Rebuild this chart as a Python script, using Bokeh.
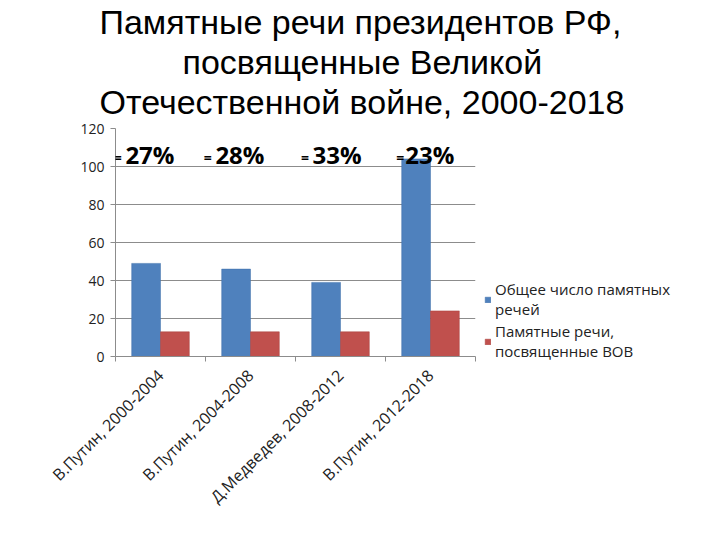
from bokeh.plotting import figure
from bokeh.models import (ColumnDataSource, Range1d, FixedTicker, Label, Legend,
                          LegendItem, Title)
from bokeh.transform import dodge
from bokeh.embed import file_html
from bokeh.resources import INLINE

# ---- data ----
categories = ["В.Путин, 2000-2004", "В.Путин, 2004-2008",
              "Д.Медведев, 2008-2012", "В.Путин, 2012-2018"]
total_speeches = [49, 46, 39, 104]
war_speeches = [13, 13, 13, 24]
percent_labels = ["27%", "28%", "33%", "23%"]
series_names = ["Общее число памятных\nречей", "Памятные речи,\nпосвященные ВОВ"]
title_lines = ["Памятные речи президентов РФ,", "посвященные Великой",
               "Отечественной войне, 2000-2018"]

BLUE = "#4F81BD"
RED = "#C0504D"
GRID = "#8C8C8C"

xpos = [i + 0.5 for i in range(len(categories))]
src = ColumnDataSource(dict(x=xpos, total=total_speeches, war=war_speeches))

p = figure(frame_width=360, frame_height=228, output_backend="svg",
           toolbar_location=None,
           x_range=Range1d(0, len(categories)), y_range=Range1d(0, 120),
           min_border_left=115, min_border_right=245,
           min_border_top=126, min_border_bottom=186)
p.outline_line_color = None
p.background_fill_color = "white"

r1 = p.vbar(x=dodge("x", -0.16), top="total", width=0.32, source=src,
            fill_color=BLUE, line_color="#3F6FA8", line_width=0.5)
r2 = p.vbar(x=dodge("x", 0.16), top="war", width=0.32, source=src,
            fill_color=RED, line_color="#A8403D", line_width=0.5)

# y axis
p.yaxis.ticker = FixedTicker(ticks=[0, 20, 40, 60, 80, 100, 120])
p.yaxis.axis_line_color = GRID
p.yaxis.major_tick_line_color = GRID
p.yaxis.major_tick_out = 5
p.yaxis.major_tick_in = 0
p.yaxis.minor_tick_line_color = None
p.yaxis.major_label_text_font = "Open Sans"
p.yaxis.major_label_text_font_size = "14px"
p.yaxis.major_label_text_color = "#222222"
p.yaxis.major_label_standoff = 6

# x axis: labels at category centres, ticks at boundaries
p.xaxis.ticker = FixedTicker(ticks=xpos,
                             minor_ticks=list(range(len(categories) + 1)))
p.xaxis.major_label_overrides = {x: c for x, c in zip(xpos, categories)}
p.xaxis.major_tick_line_color = None
p.xaxis.minor_tick_line_color = GRID
p.xaxis.minor_tick_out = 5
p.xaxis.minor_tick_in = 0
p.xaxis.axis_line_color = GRID
p.xaxis.major_label_orientation = 0.785398
p.xaxis.major_label_text_font = "Open Sans"
p.xaxis.major_label_text_font_size = "16px"
p.xaxis.major_label_text_color = "#222222"
p.xaxis.major_label_standoff = 10

p.xgrid.grid_line_color = None
p.ygrid.grid_line_color = GRID
p.ygrid.grid_line_width = 1

# title: small spacer + three stacked title panels (first added sits closest
# to the frame); left-aligned with offsets so that each line centres on the page
title_offsets = [-16, 67, -16]
p.add_layout(Title(text=" ", standoff=0, text_font_size="6px",
                   text_line_height=1.0), "above")
for t, off in reversed(list(zip(title_lines, title_offsets))):
    p.add_layout(Title(text=t, align="left", offset=off, standoff=0,
                       text_font="Liberation Sans", text_font_size="34px",
                       text_font_style="normal", text_color="black",
                       text_line_height=0.82), "above")

# percentage annotations
eq_off = [-0.02, -0.02, 0.06, 0.12]
pct_off = [0.11, 0.11, 0.19, 0.22]
for i, txt in enumerate(percent_labels):
    p.add_layout(Label(x=i + eq_off[i], y=104.5, text="=", text_align="left",
                       text_baseline="alphabetic", text_font="Open Sans",
                       text_font_size="14px", text_font_style="bold",
                       text_color="black"))
    p.add_layout(Label(x=i + pct_off[i], y=106.5, text=txt, text_align="left",
                       text_baseline="alphabetic", text_font="Open Sans",
                       text_font_size="24px", text_font_style="bold",
                       text_color="black"))

legend = Legend(items=[LegendItem(label=series_names[0], renderers=[r1]),
                       LegendItem(label=series_names[1], renderers=[r2])],
                location=(9, -5), orientation="vertical",
                background_fill_alpha=0, border_line_color=None,
                label_text_font="Open Sans", label_text_font_size="15px",
                label_text_color="#222222", glyph_width=7, glyph_height=7,
                spacing=2, padding=0, margin=0, label_standoff=4)
p.add_layout(legend, "right")

open("out.html", "w").write(file_html(p, INLINE))
